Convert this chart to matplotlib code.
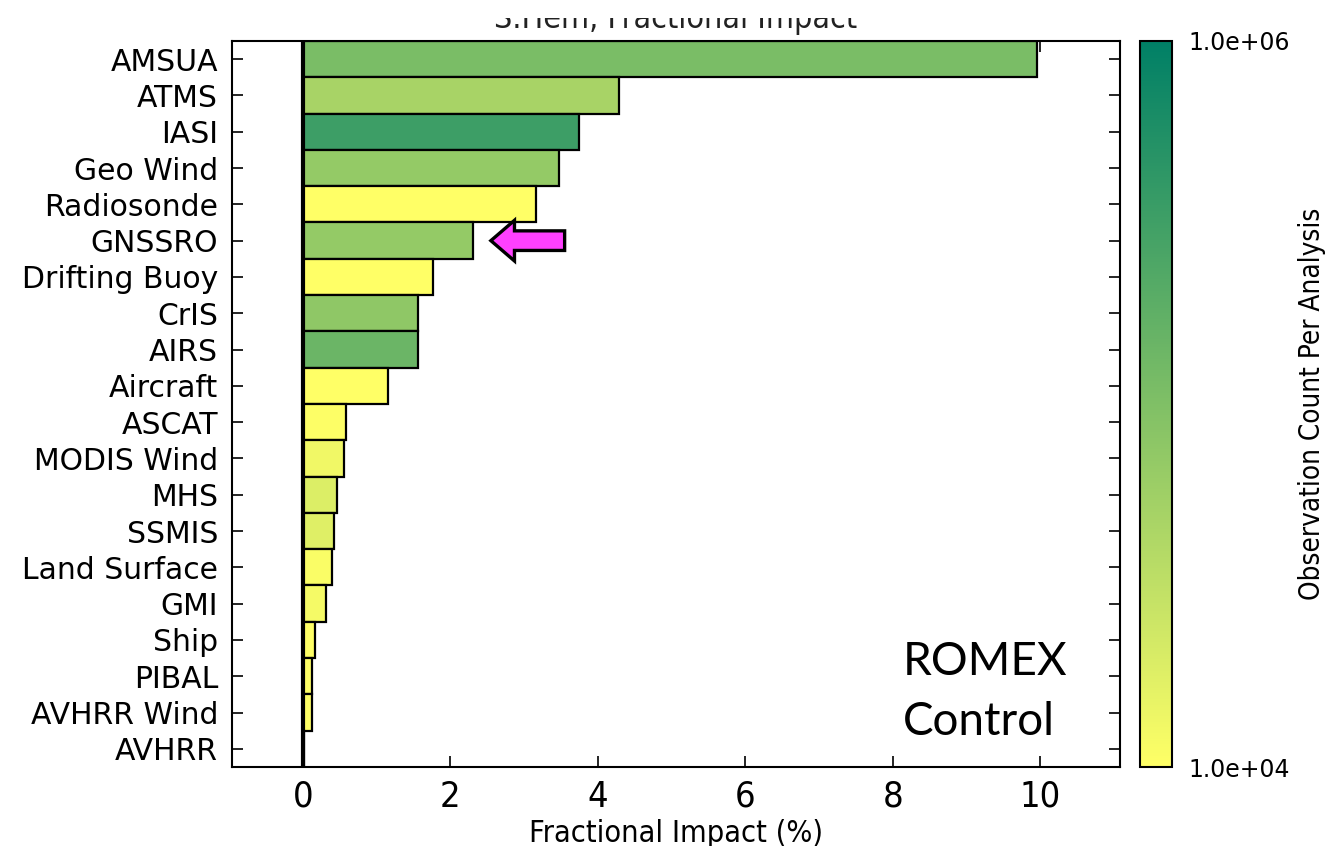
import matplotlib
matplotlib.use("Agg")
import matplotlib.pyplot as plt
from matplotlib import font_manager
from matplotlib.colors import LogNorm
from matplotlib.cm import ScalarMappable
from matplotlib.patches import FancyArrow, Rectangle
import numpy as np

# Observation types, ordered from largest to smallest impact
obs_types = ["AMSUA", "ATMS", "IASI", "Geo Wind", "Radiosonde", "GNSSRO",
             "Drifting Buoy", "CrIS", "AIRS", "Aircraft", "ASCAT", "MODIS Wind",
             "MHS", "SSMIS", "Land Surface", "GMI", "Ship", "PIBAL",
             "AVHRR Wind", "AVHRR"]

# Fractional impact (%)
impact = [9.95, 4.29, 3.74, 3.47, 3.16, 2.31, 1.76, 1.56, 1.56, 1.15,
          0.58, 0.56, 0.46, 0.42, 0.39, 0.31, 0.16, 0.12, 0.12, 0.01]

# Observation count per analysis (colour scale)
obs_count = [1.1e5, 4.8e4, 3.3e5, 6.9e4, 9.0e3, 6.9e4, 8.0e3, 7.6e4, 1.45e5, 9.5e3,
             1.05e4, 1.3e4, 1.9e4, 1.8e4, 1.1e4, 1.2e4, 1.0e4, 9.0e3, 1.0e4, 1.0e4]

xticks = [0, 2, 4, 6, 8, 10]
cbar_ticks = [1e4, 1e6]

# pick a narrow face for the axis annotations if one is available
names = {f.name for f in font_manager.fontManager.ttflist}
narrow = None
for cand in ["Liberation Sans Narrow", "DejaVu Sans Condensed"]:
    if cand in names:
        narrow = cand
        break
narrow_kw = {"family": [narrow, "DejaVu Sans"]} if narrow else {"family": "DejaVu Sans", "stretch": "condensed"}
cal_family = ["Lato", "Open Sans", "DejaVu Sans"]

W, H = 1325, 846
fig = plt.figure(figsize=(W / 100, H / 100), dpi=100)
ax_l, ax_r, ax_t, ax_b = 232, 1120, 41, 767
ax = fig.add_axes([ax_l / W, 1 - ax_b / H, (ax_r - ax_l) / W, (ax_b - ax_t) / H])
cax = fig.add_axes([1140 / W, 1 - ax_b / H, 32 / W, (ax_b - ax_t) / H])

cmap = plt.get_cmap("summer_r")
norm = LogNorm(vmin=1e4, vmax=1e6)
colors = cmap(norm(np.clip(obs_count, 1e4, 1e6)))

y = np.arange(len(obs_types))
ax.barh(y, impact, height=1.0, color=colors, edgecolor="black", linewidth=1.6, zorder=2)
ax.axvline(0, color="black", linewidth=3.0, zorder=3)

ax.set_xlim(-0.96, 11.08)
ax.set_ylim(len(obs_types) - 0.5, -0.5)
ax.set_yticks(y)
ax.set_yticklabels(obs_types, fontsize=21.5, family="DejaVu Sans")
ax.set_xticks(xticks)
ax.set_xticklabels([str(v) for v in xticks], fontsize=26, **narrow_kw)
ax.tick_params(direction="in", top=True, right=True, length=8, width=1.2, pad=9)
ax.tick_params(axis="y", pad=10)
for sp in ax.spines.values():
    sp.set_linewidth(1.5)
ax.set_xlabel("Fractional Impact (%)", fontsize=22, labelpad=4, **narrow_kw)

# title, partly hidden behind a white band along the top edge
fig.text((ax_l + ax_r) / 2 / W, 1 - 28 / H, "S.Hem, Fractional Impact",
         ha="center", va="baseline", fontsize=23, color="#222222", zorder=3, **narrow_kw)
fig.patches.append(Rectangle((0, 1 - 18 / H), 1, 18 / H, transform=fig.transFigure,
                             facecolor="white", edgecolor="none", zorder=10))

# highlight arrow pointing at GNSSRO
gi = obs_types.index("GNSSRO")
ax.add_patch(FancyArrow(3.55, gi, -1.0, 0, width=0.54, head_width=1.12,
                        head_length=0.32, length_includes_head=True,
                        facecolor="#ff40ff", edgecolor="black", linewidth=2.4, zorder=4))

ax.text(8.14, 16.97, "ROMEX", fontsize=33, family=cal_family,
        ha="left", va="baseline", zorder=5)
ax.text(8.14, 18.62, "Control", fontsize=33, family=cal_family,
        ha="left", va="baseline", zorder=5)

sm = ScalarMappable(norm=norm, cmap=cmap)
cb = fig.colorbar(sm, cax=cax, ticks=cbar_ticks)
cb.ax.minorticks_off()
cb.ax.set_yticklabels(["%.1e" % v for v in cbar_ticks], fontsize=17, family="DejaVu Sans")
cb.ax.tick_params(length=0, pad=12)
cb.outline.set_linewidth(1.5)
cb.set_label("Observation Count Per Analysis", fontsize=20, labelpad=6, **narrow_kw)

fig.savefig("out.png", dpi=100)
